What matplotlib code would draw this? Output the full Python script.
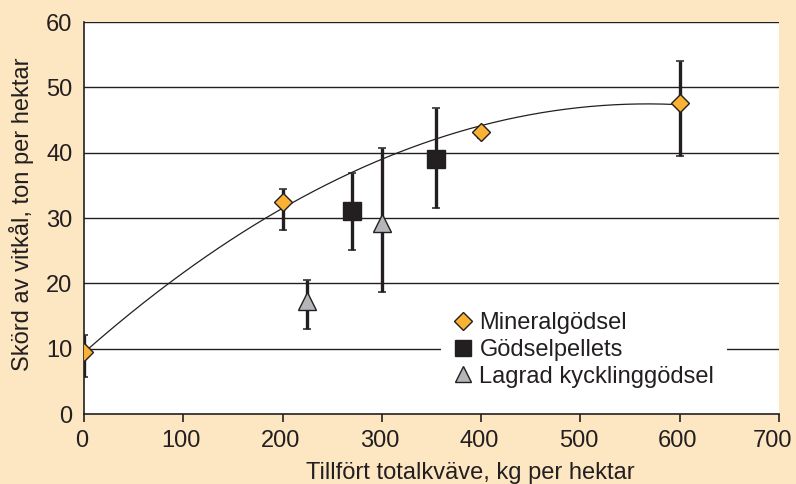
import numpy as np
import matplotlib
matplotlib.use("Agg")
import matplotlib.pyplot as plt
from matplotlib.lines import Line2D
from matplotlib.transforms import ScaledTranslation

plt.rcParams['font.family'] = ['Liberation Sans', 'DejaVu Sans']

# Mineralgödsel
min_x = [0, 200, 400, 600]
min_y = [9.5, 32.4, 43.2, 47.6]
min_lo = [5.6, 28.2, 42.3, 39.5]
min_hi = [12.1, 34.4, 44.0, 54.0]

# Gödselpellets
pel_x = [270, 355]
pel_y = [31.1, 39.1]
pel_lo = [25.1, 31.6]
pel_hi = [36.9, 46.9]

# Lagrad kycklinggödsel
kyc_x = [225, 300]
kyc_y = [17.3, 29.2]
kyc_lo = [13.0, 18.7]
kyc_hi = [20.5, 40.7]

# quadratic trend line, coefficients (x^2, x, 1)
trend_coef = [-1.181e-4, 0.1341, 9.4]
trend_range = [0, 600]

xticks = [0, 100, 200, 300, 400, 500, 600, 700]
yticks = [0, 10, 20, 30, 40, 50, 60]

BG = "#fde6c2"
ORANGE = "#f9b233"
DARK = "#231f20"
GREY = "#b4b6b9"
FS = 17

fig = plt.figure(figsize=(7.96, 4.84), dpi=100, facecolor=BG)
ax = fig.add_axes([0.1055, 0.1446, 0.8731, 0.8099])
ax.set_facecolor("white")

for y in yticks[1:]:
    ax.axhline(y, color=DARK, lw=1.0, zorder=1)

xs = np.linspace(trend_range[0], trend_range[1], 200)
ax.plot(xs, np.polyval(trend_coef, xs), color=DARK, lw=0.9, zorder=2)


def series(x, y, lo, hi, marker, color, ms):
    y = np.array(y)
    err = [y - np.array(lo), np.array(hi) - y]
    ax.errorbar(x, y, yerr=err, fmt="none", ecolor=DARK, elinewidth=2.4,
                capsize=2.8, capthick=1.1, zorder=3)
    ax.plot(x, y, linestyle="none", marker=marker, markersize=ms,
            markerfacecolor=color, markeredgecolor=DARK, markeredgewidth=1.0,
            zorder=4)


series(min_x, min_y, min_lo, min_hi, "D", ORANGE, 9.3)
series(pel_x, pel_y, pel_lo, pel_hi, "s", DARK, 13)
series(kyc_x, kyc_y, kyc_lo, kyc_hi, "^", GREY, 13.5)

ax.set_xlim(0, 700)
ax.set_ylim(0, 60)
ax.set_xticks(xticks)
ax.set_yticks(yticks)
ax.tick_params(axis="x", direction="out", length=5.8, width=1.2, color=DARK,
               labelsize=FS, labelcolor=DARK, pad=6)
ax.tick_params(axis="y", length=0, labelsize=FS, labelcolor=DARK, pad=8.3)
for s in ["top", "right"]:
    ax.spines[s].set_visible(False)
for s in ["left", "bottom"]:
    ax.spines[s].set_color(DARK)
    ax.spines[s].set_linewidth(1.2)

# labels sit a little left of their ticks; the last one more so, to fit
xlabels = ax.get_xticklabels()
for i, lab in enumerate(xlabels):
    dx = -6 if i == len(xlabels) - 1 else -2
    lab.set_transform(lab.get_transform() + ScaledTranslation(dx / 100, 0, fig.dpi_scale_trans))

fig.text(470 / 796, 1 - 479 / 484, "Tillfört totalkväve, kg per hektar",
         fontsize=FS, color=DARK, ha="center", va="baseline")
fig.text(22 / 796, 1 - 214 / 484, "Skörd av vitkål, ton per hektar",
         fontsize=FS, color=DARK, ha="center", va="center", rotation=90)

handles = [
    Line2D([], [], ls="none", marker="D", ms=8.7, mfc=ORANGE, mec=DARK, mew=1.0),
    Line2D([], [], ls="none", marker="s", ms=12, mfc=DARK, mec=DARK, mew=1.0),
    Line2D([], [], ls="none", marker="^", ms=12, mfc=GREY, mec=DARK, mew=1.0),
]
labels = ["Mineralgödsel", "Gödselpellets", "Lagrad kycklinggödsel"]
leg = ax.legend(handles, labels, loc="center left",
                bbox_to_anchor=((441 - 84) / 695, (414 - 350) / 392),
                borderaxespad=0, frameon=True, fancybox=False, framealpha=1,
                facecolor="white", edgecolor="white",
                fontsize=FS, handlelength=0.8, handletextpad=0.28,
                labelspacing=0.2, borderpad=0.55)
leg.get_frame().set_linewidth(0)
leg.set_zorder(5)
for t in leg.get_texts():
    t.set_color(DARK)

fig.savefig("out.png", dpi=100, facecolor=BG)
